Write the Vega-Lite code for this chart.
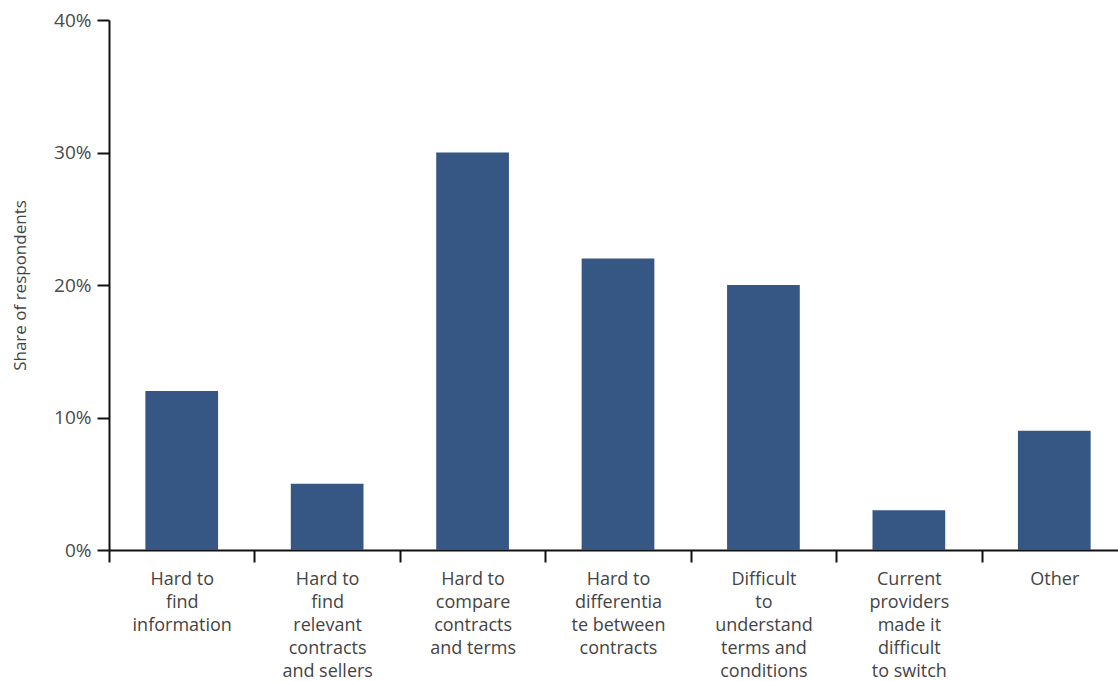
{
  "$schema": "https://vega.github.io/schema/vega-lite/v6.json",
  "width": 1009,
  "height": 530,
  "autosize": {"type": "none"},
  "padding": {"left": 109, "top": 20, "right": 0, "bottom": 131},
  "background": "white",
  "data": {
    "values": [
      {"reason": "Hard to\nfind\ninformation", "share": 0.12},
      {"reason": "Hard to\nfind\nrelevant\ncontracts\nand sellers", "share": 0.05},
      {"reason": "Hard to\ncompare\ncontracts\nand terms", "share": 0.30},
      {"reason": "Hard to\ndifferentia\nte between\ncontracts", "share": 0.22},
      {"reason": "Difficult\nto\nunderstand\nterms and\nconditions", "share": 0.20},
      {"reason": "Current\nproviders\nmade it\ndifficult\nto switch", "share": 0.03},
      {"reason": "Other", "share": 0.09}
    ]
  },
  "mark": {"type": "bar", "color": "#365784", "width": {"band": 0.5}},
  "encoding": {
    "x": {
      "field": "reason",
      "type": "nominal",
      "sort": null,
      "scale": {"range": [0, 1018], "paddingInner": 0, "paddingOuter": 0},
      "axis": {
        "title": null,
        "labelAngle": 0,
        "labelExpr": "split(datum.label, '\\n')",
        "labelFont": "Open Sans",
        "labelFontSize": 18,
        "labelColor": "#444444",
        "labelLineHeight": 23,
        "labelPadding": 8,
        "labelBaseline": "top",
        "tickBand": "extent",
        "tickSize": 12,
        "tickColor": "#111111",
        "tickWidth": 2,
        "domainColor": "#111111",
        "domainWidth": 2,
        "grid": false
      }
    },
    "y": {
      "field": "share",
      "type": "quantitative",
      "scale": {"domain": [0, 0.4]},
      "axis": {
        "title": "Share of respondents",
        "titleFont": "Open Sans",
        "titleFontSize": 17,
        "titleFontWeight": "normal",
        "titleColor": "#444444",
        "titlePadding": 24,
        "values": [0, 0.1, 0.2, 0.3, 0.4],
        "format": ".0%",
        "labelFont": "Open Sans",
        "labelFontSize": 19,
        "labelColor": "#4a4a4a",
        "labelPadding": 6,
        "tickSize": 12,
        "tickColor": "#111111",
        "tickWidth": 2,
        "domainColor": "#111111",
        "domainWidth": 2,
        "grid": false
      }
    }
  },
  "config": {"view": {"stroke": null}}
}
